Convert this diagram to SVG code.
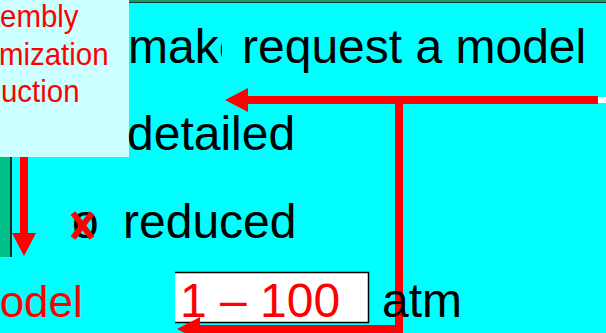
<svg xmlns="http://www.w3.org/2000/svg" width="606" height="333" viewBox="0 0 606 333">
<defs>
<style>
.t{font-family:"Liberation Sans",Arial,sans-serif;font-size:48px;fill:#000}
.r{fill:#ff0000}
.s{font-family:"Liberation Sans",Arial,sans-serif;font-size:32px;fill:#ff0000}
.red{stroke:#ff0000;stroke-width:8;fill:none}
</style>
</defs>
<rect x="0" y="0" width="606" height="333" fill="#00ffff"/>
<g id="topline">
<rect x="129" y="0" width="477" height="2" fill="#1a9a6a"/>
<rect x="129" y="2" width="477" height="1" fill="#0a3a2a"/>
</g>
<g id="make">
<text class="t" x="128" y="63">make</text>
</g>
<g id="request">
<rect x="222" y="5" width="384" height="78" fill="#00ffff"/>
<text class="t" x="242" y="63">request a model</text>
</g>
<g id="sidebox">
<rect x="0" y="0" width="129" height="157" fill="#ccffff"/>
<text class="s" transform="translate(-49,27) scale(0.92,1)">Assembly</text>
<text class="s" transform="translate(-55,65) scale(0.92,1)">Optimization</text>
<text class="s" transform="translate(-53,102) scale(0.92,1)">Reduction</text>
</g>
<g id="greenbar">
<rect x="0" y="157" width="10" height="100" fill="#00c08a"/>
<rect x="10" y="157" width="2" height="100" fill="#0a2a20"/>
</g>
<g id="detailed">
<text class="t" x="127" y="150">detailed</text>
</g>
<g id="reduced">
<text class="t" x="72" y="238">o</text>
<path d="M73 213 L92 238 M92 213 L73 238" stroke="#ff0000" stroke-width="6" fill="none"/>
<text class="t" x="123" y="238">reduced</text>
</g>
<g id="model">
<text class="t r" x="-37" y="317" style="font-size:44px">model</text>
</g>
<g id="range">
<rect x="175" y="272" width="194" height="51" fill="#ffffff"/>
<path d="M175 272.5 H368.5 V322.5 H175" stroke="#000" stroke-width="1.5" fill="none"/>
<text class="t r" x="180" y="317">1 – 100</text>
</g>
<g id="connectors">
<rect x="598" y="97" width="8" height="6" fill="#ffffff"/>
<path class="red" d="M598 100 H246"/>
<polygon points="225,100 248,88 248,112" fill="#ff0000"/>
<path class="red" d="M399 100 V329 H198"/>
<polygon points="177,329 200,317 200,341" fill="#ff0000"/>
<path class="red" d="M24 157 V234"/>
<polygon points="12,233 36,233 24,256" fill="#ff0000"/>
</g>
<g id="atm">
<text class="t" x="382" y="317">atm</text>
</g>
</svg>
